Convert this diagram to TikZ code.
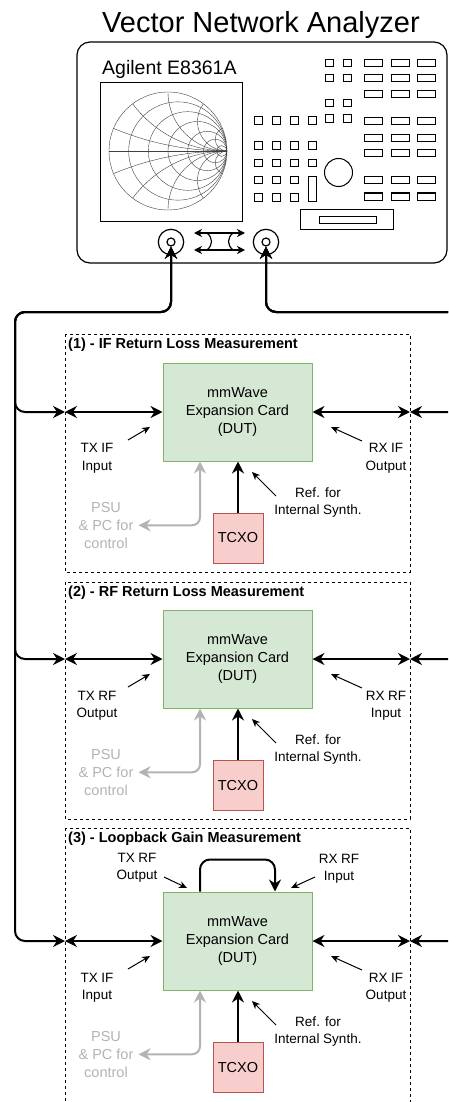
\documentclass[tikz,border=0pt]{standalone}
\usepackage{fontspec}
\setmainfont{Liberation Sans}
\usetikzlibrary{arrows.meta, calc}

\definecolor{dutFill}{HTML}{D5E8D4}
\definecolor{dutLine}{HTML}{82B366}
\definecolor{tcxoFill}{HTML}{F8CECC}
\definecolor{tcxoLine}{HTML}{B85450}
\definecolor{ctrlGray}{HTML}{B3B3B3}

\newcommand{\dutfont}{\fontsize{14.5}{18}\selectfont}
\newcommand{\notefont}{\fontsize{13.5}{17.5}\selectfont}

\tikzset{
    wire/.style={line width=2pt, rounded corners=10pt},
    noteArrow/.style={-{Stealth[length=8pt, width=7pt, inset=2.5pt]}, line width=1pt},
    ctrlArrow/.style={{Stealth[length=12pt, width=12pt, inset=4pt]}-{Stealth[length=12pt, width=12pt, inset=4pt]}, line width=2pt, draw=ctrlGray, rounded corners=8pt},
    cable/.style={{Stealth[length=8pt, width=8pt, inset=2.5pt]}-{Stealth[length=8pt, width=8pt, inset=2.5pt]}, line width=1.3pt},
    dutBox/.style={rectangle, draw=dutLine, fill=dutFill, line width=1pt, minimum width=149pt, minimum height=98pt, align=center, font=\dutfont},
    tcxoBox/.style={rectangle, draw=tcxoLine, fill=tcxoFill, line width=1pt, minimum size=50pt, font=\dutfont},
    panelBox/.style={dash pattern=on 3pt off 3pt, line width=0.9pt},
    panelTitle/.style={anchor=base west, inner sep=0pt, font=\dutfont\bfseries},
    noteText/.style={align=center, inner sep=0pt, font=\notefont},
    panelKey/.style={line width=1pt},
    smith/.style={line width=0.4pt, draw=black!75},
    portRing/.style={circle, draw, line width=1.2pt, inner sep=0pt}
}

\begin{document}
\begin{tikzpicture}[x=1pt, y=-1pt, >={Stealth[length=12pt, width=12pt, inset=4pt]}]

    \useasboundingbox (0,0) rectangle (448,1102);
    \clip (0,0) rectangle (448,1102);

    % Analyzer housing and labels
    \node[anchor=base, font=\fontsize{29}{34}\selectfont] (title) at (261,33) {Vector Network Analyzer};
    \node[draw, line width=1.2pt, rounded corners=13pt, minimum width=370pt, minimum height=221pt] (vna) at (262,152.5) {};
    \node[anchor=base west, inner sep=0pt, font=\fontsize{19.5}{23}\selectfont] (model) at (102,75) {Agilent E8361A};

    % Screen with Smith chart
    \node[draw, line width=1pt, minimum width=142pt, minimum height=138pt, inner sep=0pt] (screen) at (171,152) {};
    \begin{scope}[shift={(168,151)}, x=59pt, y=59pt]
        \begin{scope}
            \clip (0,0) circle (1);
            \foreach \r in {0.2,0.5,1,2,4,10}
                \draw[smith] ({\r/(1+\r)},0) circle ({1/(1+\r)});
            \foreach \xx in {0.2,0.5,1,2,5} {
                \draw[smith] (1,{1/\xx}) circle ({1/\xx});
                \draw[smith] (1,{-1/\xx}) circle ({1/\xx});
            }
        \end{scope}
        \draw[smith] (0,0) circle (1);
        \draw[smith] (-1,0) -- (1,0);
    \end{scope}

    % Front panel keys
    \foreach \y in {59.5,74.5,99.5,115}
        \foreach \x in {325,343} \draw[panelKey] (\x,\y) rectangle ++(8,7.5);
    \foreach \y in {59.5,74.5,91,118,134.5,150,177,193}
        \foreach \x in {364,391,417} \draw[panelKey] (\x,\y) rectangle ++(18,7);
    \foreach \y in {117,142,159.5}
        \foreach \x in {254.5,272.5,290,308} \draw[panelKey] (\x,\y) rectangle ++(8,7.5);
    \foreach \y in {176.5,193.5}
        \foreach \x in {254.5,272.5,290} \draw[panelKey] (\x,\y) rectangle ++(8,7.5);
    \draw[panelKey] (308,176.5) rectangle (316,201);
    \draw[panelKey] (338.5,172.5) circle (14pt);
    \draw[panelKey] (300,209) rectangle (393,229);
    \draw[panelKey] (319,216) rectangle (376,223);

    % Test ports and cable symbol
    \node[portRing, minimum size=25.4pt] (portA) at (171,242) {};
    \node[portRing, minimum size=8pt] (portAin) at (171,242) {};
    \node[portRing, minimum size=25.4pt] (portB) at (266,242) {};
    \node[portRing, minimum size=8pt] (portBin) at (266,242) {};
    \draw[cable] (194,233) -- (245,233);
    \draw[cable] (194,250) -- (245,250);
    \draw[line width=1.2pt] (207,233) .. controls (213,238) and (213,245) .. (207,250);
    \draw[line width=1.2pt] (233,233) .. controls (227,238) and (227,245) .. (233,250);

    \coordinate (lbus) at (15,312);
    \coordinate (rbus) at (470,312);

    % Measurement set-ups
    \foreach \i/\ptop/\pbot/\dy/\ttl/\txt/\rxt in {
        1/334/572/0/{(1) - IF Return Loss Measurement}/{TX IF\\Input}/{RX IF\\Output},
        2/582/819/247/{(2) - RF Return Loss Measurement}/{TX RF\\Output}/{RX RF\\Input},
        3/828/1120/529/{(3) - Loopback Gain Measurement}/{TX IF\\Input}/{RX IF\\Output}} {

        \draw[panelBox] (65,\ptop) rectangle (410,\pbot);
        \node[panelTitle] (ttl\i) at (68,\ptop+14.5) {\ttl};

        \node[dutBox] (dut\i) at (237.5,412+\dy) {mmWave\\Expansion Card\\(DUT)};
        \node[tcxoBox] (tcxo\i) at (238,538+\dy) {TCXO};
        \coordinate (pl\i) at (65,412+\dy);
        \coordinate (pr\i) at (410,412+\dy);

        % cables from the analyzer
        \draw[wire, <->] (portAin.south) |- (lbus) |- (pl\i);
        \draw[wire, <->] (portBin.south) |- (rbus) |- (pr\i);
        \draw[wire, <->] (pl\i) -- (dut\i.west);
        \draw[wire, <->] (dut\i.east) -- (pr\i);

        % reference and control
        \draw[wire, ->] (tcxo\i.north) -- (tcxo\i.north |- dut\i.south);
        \node[noteText, text=ctrlGray, font=\dutfont] (psu\i) at (106,525.3+\dy) {PSU\\\& PC for\\control};
        \coordinate (ctl\i) at ($(dut\i.south west)!0.25!(dut\i.south east)$);
        \draw[ctrlArrow, shorten >=5pt] (ctl\i) |- (psu\i.east);

        % port labels
        \node[noteText] (tx\i) at (97,458.5+\dy) {\txt};
        \node[noteText] (rx\i) at (386,458.5+\dy) {\rxt};
        \node[noteText] (ref\i) at (318,502.5+\dy) {Ref. for\\Internal Synth.};
        \coordinate (txp\i) at (128,440+\dy);
        \coordinate (rxp\i) at (362,441+\dy);
        \coordinate (refp\i) at (276,496+\dy);
        \draw[noteArrow] (txp\i) -- ++(22,-13);
        \draw[noteArrow] (rxp\i) -- ++(-31,-14);
        \draw[noteArrow] (refp\i) -- ++(-24,-24);
    }

    % RF loopback on the third card
    \coordinate (loopOut) at ($(dut3.north west)!0.25!(dut3.north east)$);
    \coordinate (loopIn) at ($(dut3.north west)!0.75!(dut3.north east)$);
    \draw[wire, ->] (loopOut) -- ++(0,-32) -| (loopIn);
    \node[noteText] (txrf) at (137,867.5) {TX RF\\Output};
    \node[noteText] (rxrf) at (339,868.5) {RX RF\\Input};
    \coordinate (txrfp) at (164,877);
    \coordinate (rxrfp) at (315,877);
    \draw[noteArrow] (txrfp) -- ++(23,11);
    \draw[noteArrow] (rxrfp) -- ++(-24,11);

\end{tikzpicture}
\end{document}
